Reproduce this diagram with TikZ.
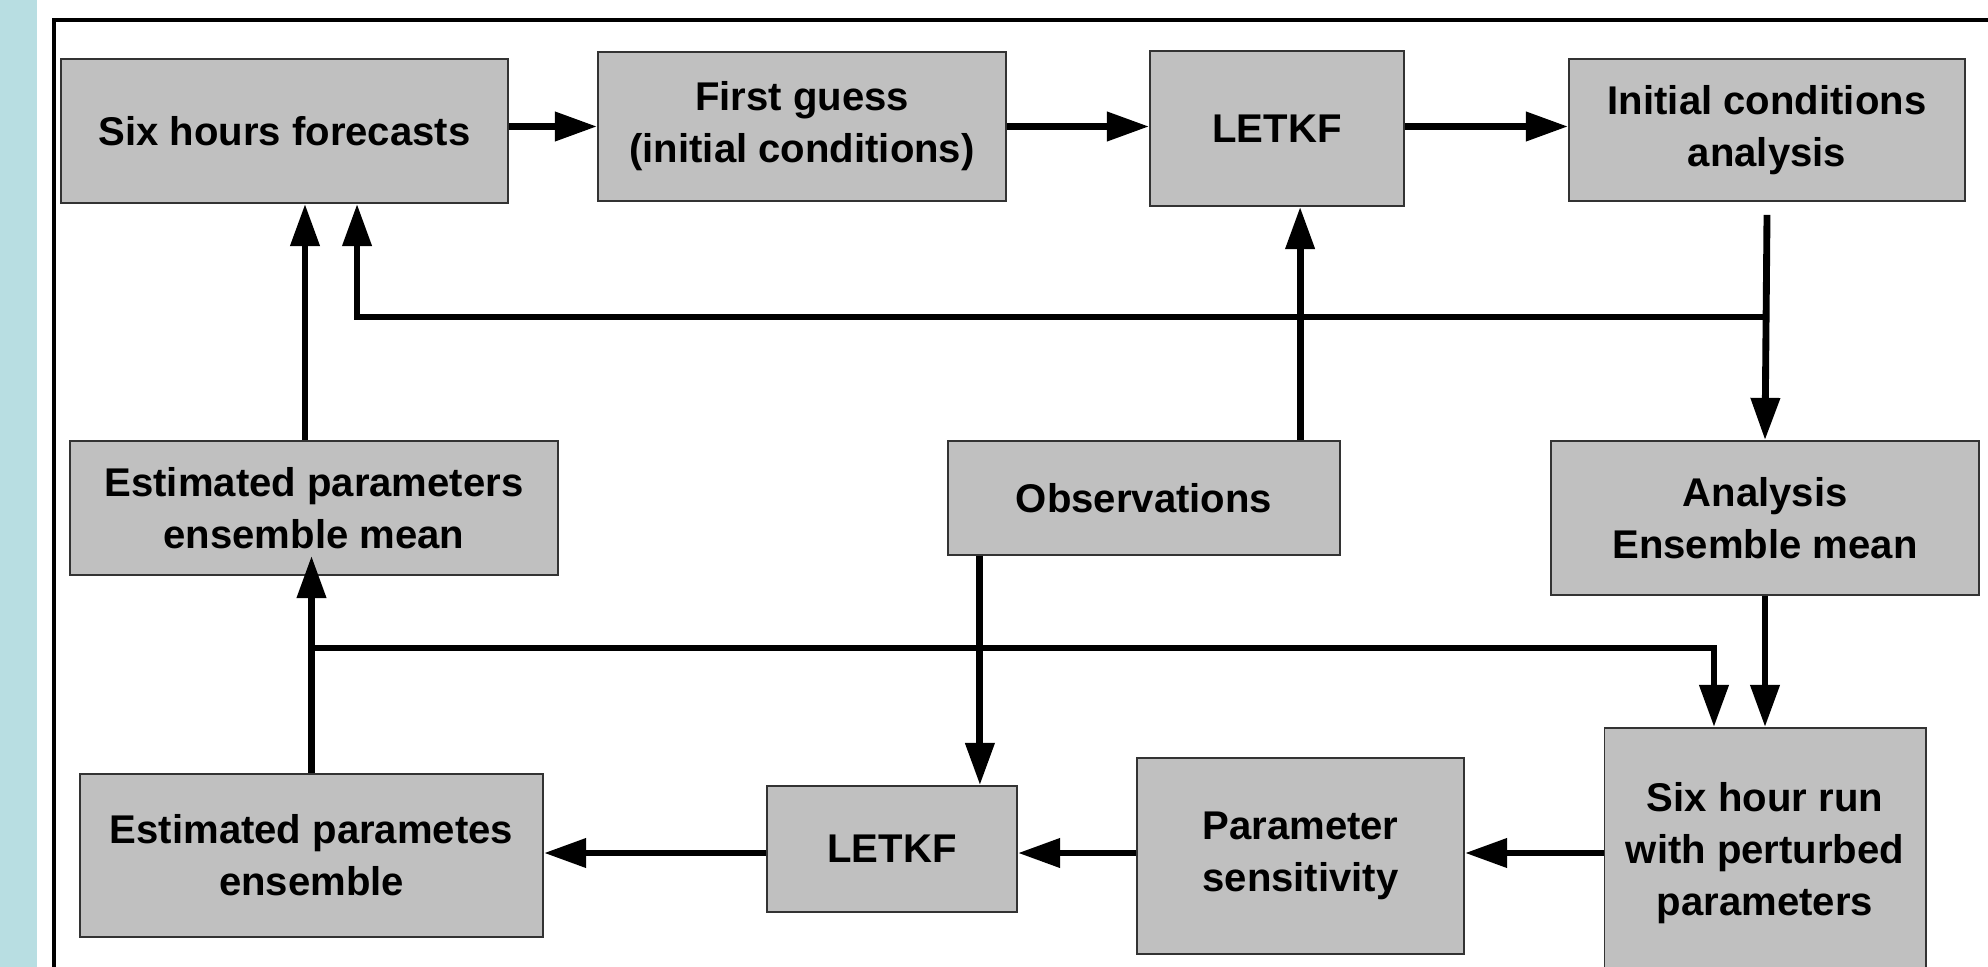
\documentclass[tikz,border=0pt]{standalone}
\usepackage{fontspec}
\setmainfont{Liberation Sans}
\usetikzlibrary{positioning,arrows.meta}
\definecolor{boxgray}{RGB}{192,192,192}
\definecolor{stripblue}{RGB}{184,222,226}
\tikzset{%
  block/.style = {draw=black!80, line width=0.5pt, fill=boxgray, rectangle,
    align=center, inner sep=0pt, font=\bfseries\fontsize{11.4}{14.8}\selectfont},
  flow/.style  = {line width=1.95pt}, % connectors
  frame/.style = {line width=1pt}
}

\begin{document}
\begin{tikzpicture}[x=0.01cm, y=-0.01cm, >={Triangle[length=12pt,width=8pt]}]

  \useasboundingbox (0,0) rectangle (1988,967);
  \fill[stripblue] (0,0) rectangle (37,967);
  \draw[frame] (54,967) -- (54,20) -- (1988,20);

  % top row
  \node at (284.5,131) [block, minimum width=4.47cm, minimum height=1.44cm] (sixfc) {Six hours forecasts};
  \node at (802,126.5) [block, minimum width=4.08cm, minimum height=1.49cm] (guess) {First guess\\(initial conditions)};
  \node at (1277,128.5) [block, minimum width=2.54cm, minimum height=1.55cm] (letkfa) {LETKF};
  \node at (1767,130) [block, minimum width=3.96cm, minimum height=1.42cm] (icana) {Initial conditions\\analysis};

  % middle row
  \node at (314,508) [block, minimum width=4.88cm, minimum height=1.34cm] (parmean) {Estimated parameters\\ensemble mean};
  \node at (1144,498) [block, minimum width=3.92cm, minimum height=1.14cm] (obs) {Observations};
  \node at (1765,518) [block, minimum width=4.28cm, minimum height=1.54cm] (anamean) {Analysis\\Ensemble mean};

  % bottom row
  \node at (1765,853) [block, minimum width=3.21cm, minimum height=2.5cm] (run) {Six hour run\\with perturbed\\parameters};
  \node at (1300.5,856) [block, minimum width=3.27cm, minimum height=1.96cm] (sens) {Parameter\\sensitivity};
  \node at (892,849) [block, minimum width=2.5cm, minimum height=1.26cm] (letkfb) {LETKF};
  \node at (311.5,855.5) [block, minimum width=4.63cm, minimum height=1.63cm] (parens) {Estimated parametes\\ensemble};

  \coordinate (fb) at (1767,317);
  \coordinate (pb) at (312,648);

  \draw[flow,->] (sixfc.east |- guess.west) -- (guess.west);
  \draw[flow,->] (guess.east) -- (guess.east -| letkfa.west);
  \draw[flow,->] (letkfa.east |- guess.east) -- (icana.west |- guess.east);

  \draw[flow,->] ([yshift=-0.13cm]icana.south) -- (anamean.north);
  \draw[flow,->] (fb) -| ([xshift=0.725cm]sixfc.south);
  \draw[flow,->] ([xshift=-0.09cm]parmean.north) -- ([xshift=-0.09cm]parmean.north |- sixfc.south);
  \draw[flow,->] ([xshift=1.56cm]obs.north) -- ([xshift=1.56cm]obs.north |- letkfa.south);

  \draw[flow,->] ([xshift=-1.64cm]obs.south) -- ([xshift=-1.64cm]obs.south |- letkfb.north);
  \draw[flow,->] (anamean.south) -- (run.north);
  \draw[flow,->] (parens.north) -- ([yshift=0.2cm]parens.north |- parmean.south);
  \draw[flow,->] (pb) -| ([xshift=-0.51cm]run.north);

  \draw[flow,->] (run.west) -- (run.west -| sens.east);
  \draw[flow,->] (sens.west |- run.west) -- (letkfb.east |- run.west);
  \draw[flow,->] (letkfb.west |- run.west) -- (parens.east |- run.west);

\end{tikzpicture}
\end{document}
